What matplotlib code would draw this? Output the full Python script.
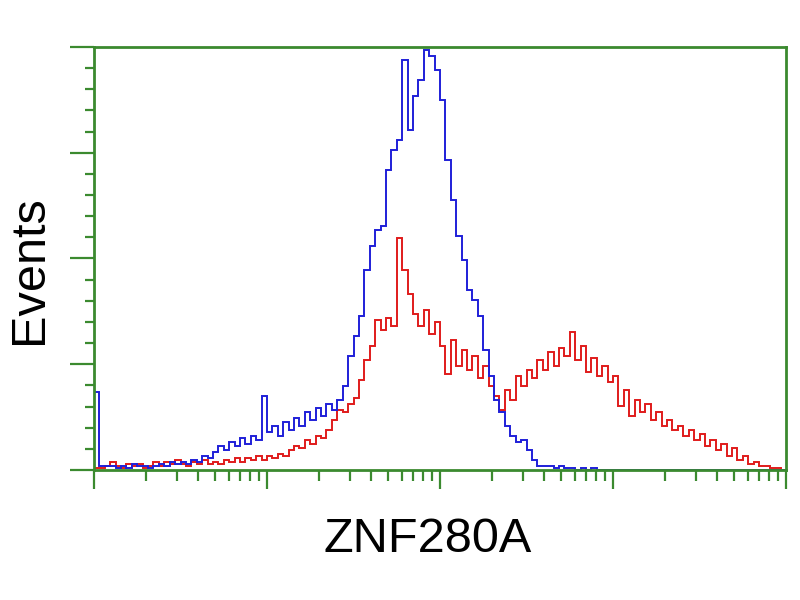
import numpy as np
import matplotlib
matplotlib.use("Agg")
import matplotlib.pyplot as plt
from matplotlib.ticker import LogLocator, FixedLocator, NullFormatter

# Style constants
GREEN = "#3b8a2f"
BLUE = "#1f1fd8"
RED = "#e01b1b"

# Histogram counts per log channel (128 channels over 4 decades)
blue_counts = [
    39, 2, 2, 2, 1, 2, 1, 3, 2, 2, 1, 2, 3, 2, 4, 3, 4, 3, 5, 4,
    7, 6, 9, 12, 10, 14, 12, 16, 13, 17, 15, 37, 19, 22, 17, 24, 20, 26, 22, 29,
    25, 31, 27, 33, 30, 35, 42, 57, 67, 77, 100, 112, 120, 122, 150, 160, 165, 205, 170, 187,
    195, 210, 207, 200, 185, 155, 135, 117, 105, 90, 85, 77, 60, 47, 35, 29, 22, 17, 14, 15,
    10, 5, 2, 2, 2, 1, 2, 1, 1, 0, 1, 0, 1, 0, 0, 0, 0, 0, 0, 0,
    0, 0, 0, 0, 0, 0, 0, 0, 0, 0, 0, 0, 0, 0, 0, 0, 0, 0, 0, 0,
    0, 0, 0, 0, 0, 0, 0, 0,
]
red_counts = [
    1, 1, 2, 4, 2, 1, 3, 2, 3, 1, 2, 4, 2, 4, 3, 5, 3, 2, 4, 3,
    5, 3, 4, 3, 5, 4, 6, 4, 6, 5, 7, 5, 7, 6, 8, 7, 10, 12, 11, 15,
    13, 17, 16, 20, 25, 30, 29, 33, 36, 45, 55, 62, 75, 70, 76, 72, 116, 100, 88, 78,
    72, 80, 68, 74, 62, 48, 65, 52, 60, 50, 57, 46, 52, 42, 37, 30, 40, 35, 47, 42,
    50, 46, 55, 50, 59, 52, 61, 57, 69, 55, 62, 49, 56, 47, 52, 44, 47, 32, 40, 27,
    35, 29, 33, 25, 29, 22, 25, 20, 22, 17, 20, 15, 18, 12, 15, 10, 13, 7, 11, 5,
    7, 3, 4, 2, 2, 1, 1, 0,
]
x_label = "ZNF280A"
y_label = "Events"

edges = np.logspace(0, 4, len(blue_counts) + 1)
y_max = 211.5

fig = plt.figure(figsize=(8, 6), dpi=100, facecolor="white")
ax = fig.add_axes([0.1175, 0.2167, 0.865, 0.705])

ax.stairs(red_counts, edges, baseline=None, color=RED, linewidth=1.4)
ax.stairs(blue_counts, edges, baseline=None, color=BLUE, linewidth=1.4)

ax.set_xscale("log")
ax.set_xlim(1, 1e4)
ax.set_ylim(0, y_max)

ax.xaxis.set_major_locator(LogLocator(base=10))
ax.xaxis.set_minor_locator(LogLocator(base=10, subs=np.arange(2, 10)))
ax.xaxis.set_major_formatter(NullFormatter())
ax.xaxis.set_minor_formatter(NullFormatter())
ax.yaxis.set_major_locator(FixedLocator(np.linspace(0, y_max, 5)))
ax.yaxis.set_minor_locator(FixedLocator(np.linspace(0, y_max, 21)))
ax.yaxis.set_major_formatter(NullFormatter())

ax.tick_params(axis="both", which="both", direction="out", color=GREEN, width=1.6)
ax.tick_params(axis="x", which="major", length=14)
ax.tick_params(axis="x", which="minor", length=8)
ax.tick_params(axis="y", which="major", length=17)
ax.tick_params(axis="y", which="minor", length=6.5)

for spine in ax.spines.values():
    spine.set_color(GREEN)
    spine.set_linewidth(2)

fig.text(428 / 800, 1 - 552 / 600, x_label, ha="center", va="baseline",
         fontsize=35, family="Liberation Sans")
fig.text(30 / 800, 1 - 270 / 600, y_label, ha="center", va="center",
         rotation=90, fontsize=35, family="Liberation Sans")

plt.savefig("out.png", dpi=100, facecolor="white")
